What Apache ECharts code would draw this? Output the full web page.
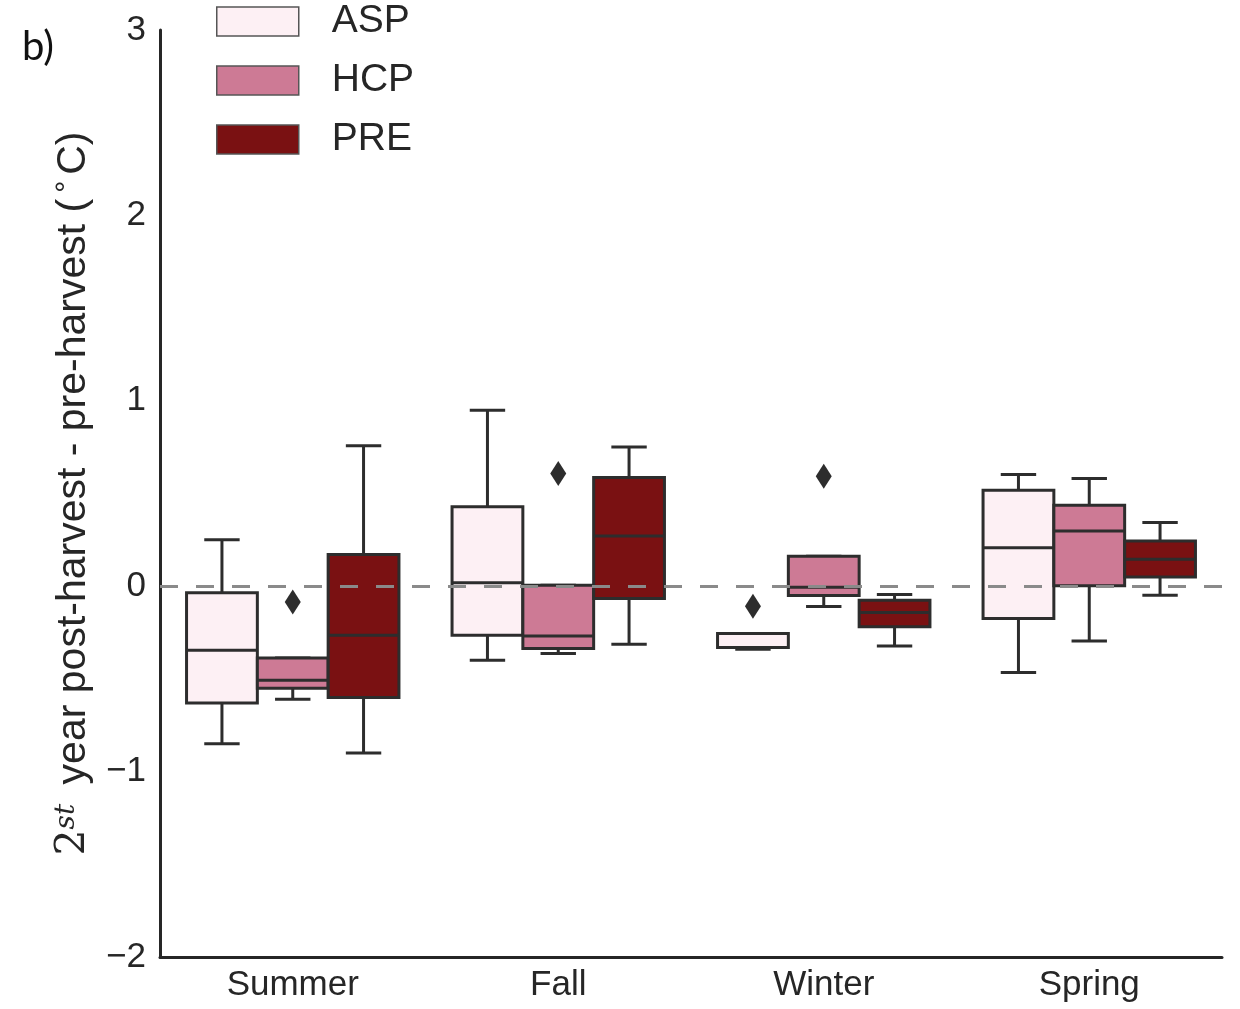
<!DOCTYPE html>
<html>
<head>
<meta charset="utf-8">
<script src="https://cdn.jsdelivr.net/npm/echarts@6/dist/echarts.min.js"></script>
<style>
  html, body { margin: 0; padding: 0; background: #fff; }
  #chart { width: 1240px; height: 1009px; }
</style>
</head>
<body>
<div id="chart"></div>
<script>
// seasons on the x axis
const seasons = ["Summer", "Fall", "Winter", "Spring"];
const groups = ["ASP", "HCP", "PRE"];
const yTicks = [-2, -1, 0, 1, 2, 3];

// box stats per season: [low whisker, Q1, median, Q3, high whisker]
const aspStats = [
  [-0.85, -0.63, -0.345, -0.036, 0.25],
  [-0.40, -0.264, 0.018, 0.428, 0.949],
  [-0.34, -0.331, -0.33, -0.255, -0.255],
  [-0.466, -0.174, 0.207, 0.518, 0.602]
];
const hcpStats = [
  [-0.61, -0.55, -0.507, -0.387, -0.387],
  [-0.363, -0.336, -0.268, 0.005, 0.005],
  [-0.11, -0.05, -0.005, 0.162, 0.162],
  [-0.295, 0.002, 0.298, 0.437, 0.581]
];
const preStats = [
  [-0.90, -0.60, -0.264, 0.171, 0.757],
  [-0.313, -0.066, 0.271, 0.586, 0.751],
  [-0.322, -0.219, -0.142, -0.076, -0.045],
  [-0.049, 0.05, 0.146, 0.244, 0.343]
];

// fliers: [season index, group index, value]
const fliers = [
  [0, 1, -0.085],
  [1, 1, 0.608],
  [2, 0, -0.108],
  [2, 1, 0.593]
];

const fills = ["#fdf0f4", "#cd7a95", "#7a1112"];
const edge = "#2d2d2d";

function boxRenderer(gi) {
  return function (params, api) {
    const cat = api.value(0);
    const band = api.size([1, 0])[0];
    const w = band * 0.8 / 3;
    const cx = api.coord([cat, 0])[0] + (gi - 1) * w;
    const y = i => api.coord([cat, api.value(i)])[1];
    const lo = y(1), q1 = y(2), med = y(3), q3 = y(4), hi = y(5);
    const cap = w / 4;
    const ls = { stroke: edge, lineWidth: 3 };
    return {
      type: "group",
      children: [
        { type: "line", shape: { x1: cx, y1: q1, x2: cx, y2: lo }, style: ls },
        { type: "line", shape: { x1: cx, y1: q3, x2: cx, y2: hi }, style: ls },
        { type: "line", shape: { x1: cx - cap, y1: lo, x2: cx + cap, y2: lo }, style: ls },
        { type: "line", shape: { x1: cx - cap, y1: hi, x2: cx + cap, y2: hi }, style: ls },
        {
          type: "rect",
          shape: { x: cx - w / 2, y: q3, width: w, height: q1 - q3 },
          style: { fill: fills[gi], stroke: edge, lineWidth: 3 }
        },
        { type: "line", shape: { x1: cx - w / 2, y1: med, x2: cx + w / 2, y2: med }, style: ls }
      ]
    };
  };
}

function flierRenderer(params, api) {
  const cat = api.value(0);
  const gi = api.value(1);
  const band = api.size([1, 0])[0];
  const w = band * 0.8 / 3;
  const p = api.coord([cat, api.value(2)]);
  const cx = p[0] + (gi - 1) * w;
  const cy = p[1];
  return {
    type: "polygon",
    shape: { points: [[cx, cy - 12.5], [cx + 8, cy], [cx, cy + 12.5], [cx - 8, cy]] },
    style: { fill: edge }
  };
}

const allStats = [aspStats, hcpStats, preStats];
const series = groups.map((g, gi) => ({
  name: g,
  type: "custom",
  renderItem: boxRenderer(gi),
  itemStyle: { color: fills[gi], borderColor: "#555", borderWidth: 1.5 },
  encode: { x: 0, y: [1, 2, 3, 4, 5] },
  data: allStats[gi].map((s, i) => [i].concat(s)),
  z: 2
}));

series.push({
  name: "fliers",
  type: "custom",
  renderItem: flierRenderer,
  encode: { x: 0, y: 2 },
  data: fliers,
  z: 3,
  markLine: {
    silent: true,
    symbol: "none",
    label: { show: false },
    lineStyle: { color: "#8a8a8a", width: 3, type: [18, 18] },
    data: [{ yAxis: 0 }],
    z: 10
  }
});

const chart = echarts.init(document.getElementById("chart"), null, { renderer: "canvas" });
chart.setOption({
  animation: false,
  backgroundColor: "#fff",
  textStyle: { fontFamily: "Liberation Sans, Arial, sans-serif" },
  grid: { left: 160, right: 18, top: 30, bottom: 52 },
  legend: {
    data: groups,
    orient: "vertical",
    left: 216,
    top: 2,
    padding: 0,
    icon: "rect",
    itemWidth: 82,
    itemHeight: 29,
    itemGap: 20,
    itemStyle: { borderColor: "#555", borderWidth: 1.5 },
    textStyle: { fontSize: 39, color: "#262626", padding: [0, 0, 0, 28] }
  },
  graphic: [{
    type: "text",
    left: 22,
    top: 27,
    style: { text: "b)", fontSize: 40, fontFamily: "Lato, Open Sans, sans-serif", fill: "#111" }
  }],
  xAxis: {
    type: "category",
    data: seasons,
    boundaryGap: true,
    axisLine: { onZero: false, lineStyle: { color: "#262626", width: 3 } },
    axisTick: { show: false },
    axisLabel: { fontSize: 35, color: "#262626", margin: 11 },
    splitLine: { show: false }
  },
  yAxis: {
    type: "value",
    min: yTicks[0],
    max: yTicks[yTicks.length - 1],
    interval: 1,
    axisLine: { show: true, lineStyle: { color: "#262626", width: 3 } },
    axisTick: { show: false },
    splitLine: { show: false },
    axisLabel: {
      fontSize: 35,
      color: "#262626",
      margin: 14,
      formatter: v => (v < 0 ? "\u2212" + Math.abs(v) : String(v))
    },
    name: "{m|2}{s|st}{t| year post-harvest - pre-harvest (}{d|°}{t|C)}",
    nameLocation: "middle",
    nameRotate: 90,
    nameGap: 66,
    nameTextStyle: {
      rich: {
        m: { fontSize: 41, fontFamily: "DejaVu Serif, serif", color: "#262626" },
        s: { fontSize: 28, fontFamily: "DejaVu Serif, serif", fontStyle: "italic", color: "#262626", verticalAlign: "top", padding: [0, 8, 0, 0] },
        t: { fontSize: 41, color: "#262626" },
        d: { fontSize: 30, color: "#262626", verticalAlign: "top", padding: [0, 6, 0, 6] }
      }
    }
  },
  series: series
});
</script>
</body>
</html>
